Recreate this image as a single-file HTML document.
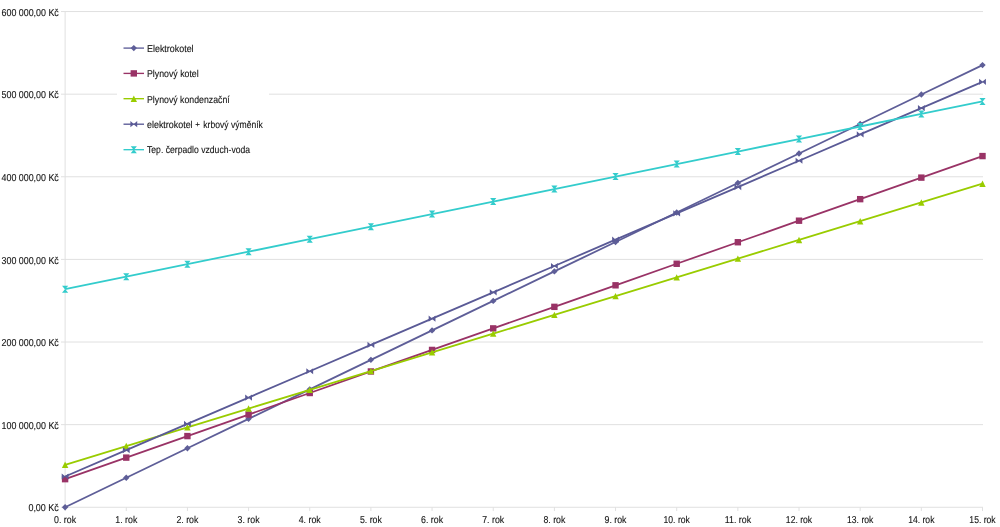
<!DOCTYPE html><html><head><meta charset="utf-8"><style>html,body{margin:0;padding:0;background:#fff;width:1000px;height:527px;overflow:hidden}svg{display:block;filter:blur(0.35px)}text{font-family:"Liberation Sans",sans-serif;font-size:10px;text-rendering:geometricPrecision;fill:#151515;stroke:#151515;stroke-width:0.12px}</style></head><body>
<svg width="1000" height="527" viewBox="0 0 1000 527">
<line x1="61" y1="507.25" x2="983.00" y2="507.25" stroke="#e0e0e0" stroke-width="1"/>
<text x="58.8" y="511.45" text-anchor="end" textLength="30.4" lengthAdjust="spacingAndGlyphs">0,00 Kč</text>
<line x1="61" y1="424.63" x2="983.00" y2="424.63" stroke="#e0e0e0" stroke-width="1"/>
<text x="58.8" y="428.83" text-anchor="end" textLength="57.3" lengthAdjust="spacingAndGlyphs">100 000,00 Kč</text>
<line x1="61" y1="342.01" x2="983.00" y2="342.01" stroke="#e0e0e0" stroke-width="1"/>
<text x="58.8" y="346.21" text-anchor="end" textLength="57.3" lengthAdjust="spacingAndGlyphs">200 000,00 Kč</text>
<line x1="61" y1="259.39" x2="983.00" y2="259.39" stroke="#e0e0e0" stroke-width="1"/>
<text x="58.8" y="263.59" text-anchor="end" textLength="57.3" lengthAdjust="spacingAndGlyphs">300 000,00 Kč</text>
<line x1="61" y1="176.78" x2="983.00" y2="176.78" stroke="#e0e0e0" stroke-width="1"/>
<text x="58.8" y="180.98" text-anchor="end" textLength="57.3" lengthAdjust="spacingAndGlyphs">400 000,00 Kč</text>
<line x1="61" y1="94.16" x2="983.00" y2="94.16" stroke="#e0e0e0" stroke-width="1"/>
<text x="58.8" y="98.36" text-anchor="end" textLength="57.3" lengthAdjust="spacingAndGlyphs">500 000,00 Kč</text>
<line x1="61" y1="11.54" x2="983.00" y2="11.54" stroke="#e0e0e0" stroke-width="1"/>
<text x="58.8" y="15.74" text-anchor="end" textLength="57.3" lengthAdjust="spacingAndGlyphs">600 000,00 Kč</text>
<line x1="65.1" y1="11.54" x2="65.1" y2="507.25" stroke="#e0e0e0"/>
<line x1="65.1" y1="507.25" x2="65.1" y2="511.05" stroke="#e0e0e0"/>
<text x="65.1" y="522.5" text-anchor="middle" textLength="22.0" lengthAdjust="spacingAndGlyphs">0. rok</text>
<line x1="126.26" y1="507.25" x2="126.26" y2="511.05" stroke="#e0e0e0"/>
<text x="126.3" y="522.5" text-anchor="middle" textLength="22.0" lengthAdjust="spacingAndGlyphs">1. rok</text>
<line x1="187.42" y1="507.25" x2="187.42" y2="511.05" stroke="#e0e0e0"/>
<text x="187.4" y="522.5" text-anchor="middle" textLength="22.0" lengthAdjust="spacingAndGlyphs">2. rok</text>
<line x1="248.58" y1="507.25" x2="248.58" y2="511.05" stroke="#e0e0e0"/>
<text x="248.6" y="522.5" text-anchor="middle" textLength="22.0" lengthAdjust="spacingAndGlyphs">3. rok</text>
<line x1="309.74" y1="507.25" x2="309.74" y2="511.05" stroke="#e0e0e0"/>
<text x="309.7" y="522.5" text-anchor="middle" textLength="22.0" lengthAdjust="spacingAndGlyphs">4. rok</text>
<line x1="370.9" y1="507.25" x2="370.9" y2="511.05" stroke="#e0e0e0"/>
<text x="370.9" y="522.5" text-anchor="middle" textLength="22.0" lengthAdjust="spacingAndGlyphs">5. rok</text>
<line x1="432.06" y1="507.25" x2="432.06" y2="511.05" stroke="#e0e0e0"/>
<text x="432.1" y="522.5" text-anchor="middle" textLength="22.0" lengthAdjust="spacingAndGlyphs">6. rok</text>
<line x1="493.22" y1="507.25" x2="493.22" y2="511.05" stroke="#e0e0e0"/>
<text x="493.2" y="522.5" text-anchor="middle" textLength="22.0" lengthAdjust="spacingAndGlyphs">7. rok</text>
<line x1="554.38" y1="507.25" x2="554.38" y2="511.05" stroke="#e0e0e0"/>
<text x="554.4" y="522.5" text-anchor="middle" textLength="22.0" lengthAdjust="spacingAndGlyphs">8. rok</text>
<line x1="615.54" y1="507.25" x2="615.54" y2="511.05" stroke="#e0e0e0"/>
<text x="615.5" y="522.5" text-anchor="middle" textLength="22.0" lengthAdjust="spacingAndGlyphs">9. rok</text>
<line x1="676.7" y1="507.25" x2="676.7" y2="511.05" stroke="#e0e0e0"/>
<text x="676.7" y="522.5" text-anchor="middle" textLength="26.3" lengthAdjust="spacingAndGlyphs">10. rok</text>
<line x1="737.86" y1="507.25" x2="737.86" y2="511.05" stroke="#e0e0e0"/>
<text x="737.9" y="522.5" text-anchor="middle" textLength="26.3" lengthAdjust="spacingAndGlyphs">11. rok</text>
<line x1="799.02" y1="507.25" x2="799.02" y2="511.05" stroke="#e0e0e0"/>
<text x="799.0" y="522.5" text-anchor="middle" textLength="26.3" lengthAdjust="spacingAndGlyphs">12. rok</text>
<line x1="860.18" y1="507.25" x2="860.18" y2="511.05" stroke="#e0e0e0"/>
<text x="860.2" y="522.5" text-anchor="middle" textLength="26.3" lengthAdjust="spacingAndGlyphs">13. rok</text>
<line x1="921.34" y1="507.25" x2="921.34" y2="511.05" stroke="#e0e0e0"/>
<text x="921.3" y="522.5" text-anchor="middle" textLength="26.3" lengthAdjust="spacingAndGlyphs">14. rok</text>
<line x1="982.5" y1="507.25" x2="982.5" y2="511.05" stroke="#e0e0e0"/>
<text x="982.5" y="522.5" text-anchor="middle" textLength="26.3" lengthAdjust="spacingAndGlyphs">15. rok</text>
<rect x="117" y="35" width="152" height="128" fill="#fff"/>
<polyline points="65.10,507.25 126.26,477.77 187.42,448.29 248.58,418.82 309.74,389.34 370.90,359.86 432.06,330.38 493.22,300.90 554.38,271.42 615.54,241.95 676.70,212.47 737.86,182.99 799.02,153.51 860.18,124.03 921.34,94.55 982.50,65.08" fill="none" stroke="#5e5e98" stroke-width="1.8" stroke-linejoin="round"/>
<path d="M61.90 507.25L65.10 504.05L68.30 507.25L65.10 510.45Z" fill="#5e5e98"/>
<path d="M123.06 477.77L126.26 474.57L129.46 477.77L126.26 480.97Z" fill="#5e5e98"/>
<path d="M184.22 448.29L187.42 445.09L190.62 448.29L187.42 451.49Z" fill="#5e5e98"/>
<path d="M245.38 418.82L248.58 415.62L251.78 418.82L248.58 422.02Z" fill="#5e5e98"/>
<path d="M306.54 389.34L309.74 386.14L312.94 389.34L309.74 392.54Z" fill="#5e5e98"/>
<path d="M367.70 359.86L370.90 356.66L374.10 359.86L370.90 363.06Z" fill="#5e5e98"/>
<path d="M428.86 330.38L432.06 327.18L435.26 330.38L432.06 333.58Z" fill="#5e5e98"/>
<path d="M490.02 300.90L493.22 297.70L496.42 300.90L493.22 304.10Z" fill="#5e5e98"/>
<path d="M551.18 271.42L554.38 268.22L557.58 271.42L554.38 274.62Z" fill="#5e5e98"/>
<path d="M612.34 241.95L615.54 238.75L618.74 241.95L615.54 245.15Z" fill="#5e5e98"/>
<path d="M673.50 212.47L676.70 209.27L679.90 212.47L676.70 215.67Z" fill="#5e5e98"/>
<path d="M734.66 182.99L737.86 179.79L741.06 182.99L737.86 186.19Z" fill="#5e5e98"/>
<path d="M795.82 153.51L799.02 150.31L802.22 153.51L799.02 156.71Z" fill="#5e5e98"/>
<path d="M856.98 124.03L860.18 120.83L863.38 124.03L860.18 127.23Z" fill="#5e5e98"/>
<path d="M918.14 94.55L921.34 91.35L924.54 94.55L921.34 97.75Z" fill="#5e5e98"/>
<path d="M979.30 65.08L982.50 61.88L985.70 65.08L982.50 68.28Z" fill="#5e5e98"/>
<polyline points="65.10,479.16 126.26,457.62 187.42,436.08 248.58,414.54 309.74,393.01 370.90,371.47 432.06,349.93 493.22,328.39 554.38,306.85 615.54,285.31 676.70,263.77 737.86,242.24 799.02,220.70 860.18,199.16 921.34,177.62 982.50,156.08" fill="none" stroke="#993366" stroke-width="1.8" stroke-linejoin="round"/>
<rect x="61.90" y="475.96" width="6.40" height="6.40" fill="#993366"/>
<rect x="123.06" y="454.42" width="6.40" height="6.40" fill="#993366"/>
<rect x="184.22" y="432.88" width="6.40" height="6.40" fill="#993366"/>
<rect x="245.38" y="411.34" width="6.40" height="6.40" fill="#993366"/>
<rect x="306.54" y="389.81" width="6.40" height="6.40" fill="#993366"/>
<rect x="367.70" y="368.27" width="6.40" height="6.40" fill="#993366"/>
<rect x="428.86" y="346.73" width="6.40" height="6.40" fill="#993366"/>
<rect x="490.02" y="325.19" width="6.40" height="6.40" fill="#993366"/>
<rect x="551.18" y="303.65" width="6.40" height="6.40" fill="#993366"/>
<rect x="612.34" y="282.11" width="6.40" height="6.40" fill="#993366"/>
<rect x="673.50" y="260.57" width="6.40" height="6.40" fill="#993366"/>
<rect x="734.66" y="239.04" width="6.40" height="6.40" fill="#993366"/>
<rect x="795.82" y="217.50" width="6.40" height="6.40" fill="#993366"/>
<rect x="856.98" y="195.96" width="6.40" height="6.40" fill="#993366"/>
<rect x="918.14" y="174.42" width="6.40" height="6.40" fill="#993366"/>
<rect x="979.30" y="152.88" width="6.40" height="6.40" fill="#993366"/>
<polyline points="65.10,464.78 126.26,446.05 187.42,427.31 248.58,408.57 309.74,389.83 370.90,371.09 432.06,352.36 493.22,333.62 554.38,314.88 615.54,296.14 676.70,277.41 737.86,258.67 799.02,239.93 860.18,221.19 921.34,202.45 982.50,183.72" fill="none" stroke="#99cc00" stroke-width="1.8" stroke-linejoin="round"/>
<path d="M61.90 467.98L65.10 461.58L68.30 467.98Z" fill="#99cc00"/>
<path d="M123.06 449.25L126.26 442.85L129.46 449.25Z" fill="#99cc00"/>
<path d="M184.22 430.51L187.42 424.11L190.62 430.51Z" fill="#99cc00"/>
<path d="M245.38 411.77L248.58 405.37L251.78 411.77Z" fill="#99cc00"/>
<path d="M306.54 393.03L309.74 386.63L312.94 393.03Z" fill="#99cc00"/>
<path d="M367.70 374.29L370.90 367.89L374.10 374.29Z" fill="#99cc00"/>
<path d="M428.86 355.56L432.06 349.16L435.26 355.56Z" fill="#99cc00"/>
<path d="M490.02 336.82L493.22 330.42L496.42 336.82Z" fill="#99cc00"/>
<path d="M551.18 318.08L554.38 311.68L557.58 318.08Z" fill="#99cc00"/>
<path d="M612.34 299.34L615.54 292.94L618.74 299.34Z" fill="#99cc00"/>
<path d="M673.50 280.61L676.70 274.21L679.90 280.61Z" fill="#99cc00"/>
<path d="M734.66 261.87L737.86 255.47L741.06 261.87Z" fill="#99cc00"/>
<path d="M795.82 243.13L799.02 236.73L802.22 243.13Z" fill="#99cc00"/>
<path d="M856.98 224.39L860.18 217.99L863.38 224.39Z" fill="#99cc00"/>
<path d="M918.14 205.65L921.34 199.25L924.54 205.65Z" fill="#99cc00"/>
<path d="M979.30 186.92L982.50 180.52L985.70 186.92Z" fill="#99cc00"/>
<polyline points="65.10,476.52 126.26,450.20 187.42,423.89 248.58,397.57 309.74,371.26 370.90,344.95 432.06,318.63 493.22,292.32 554.38,266.00 615.54,239.69 676.70,213.38 737.86,187.06 799.02,160.75 860.18,134.43 921.34,108.12 982.50,81.81" fill="none" stroke="#5a5a96" stroke-width="1.8" stroke-linejoin="round"/>
<path d="M61.70 473.42L65.40 476.52L61.70 479.62Z M68.50 473.42L64.80 476.52L68.50 479.62Z" fill="#5a5a96"/>
<path d="M122.86 447.10L126.56 450.20L122.86 453.30Z M129.66 447.10L125.96 450.20L129.66 453.30Z" fill="#5a5a96"/>
<path d="M184.02 420.79L187.72 423.89L184.02 426.99Z M190.82 420.79L187.12 423.89L190.82 426.99Z" fill="#5a5a96"/>
<path d="M245.18 394.47L248.88 397.57L245.18 400.67Z M251.98 394.47L248.28 397.57L251.98 400.67Z" fill="#5a5a96"/>
<path d="M306.34 368.16L310.04 371.26L306.34 374.36Z M313.14 368.16L309.44 371.26L313.14 374.36Z" fill="#5a5a96"/>
<path d="M367.50 341.85L371.20 344.95L367.50 348.05Z M374.30 341.85L370.60 344.95L374.30 348.05Z" fill="#5a5a96"/>
<path d="M428.66 315.53L432.36 318.63L428.66 321.73Z M435.46 315.53L431.76 318.63L435.46 321.73Z" fill="#5a5a96"/>
<path d="M489.82 289.22L493.52 292.32L489.82 295.42Z M496.62 289.22L492.92 292.32L496.62 295.42Z" fill="#5a5a96"/>
<path d="M550.98 262.90L554.68 266.00L550.98 269.10Z M557.78 262.90L554.08 266.00L557.78 269.10Z" fill="#5a5a96"/>
<path d="M612.14 236.59L615.84 239.69L612.14 242.79Z M618.94 236.59L615.24 239.69L618.94 242.79Z" fill="#5a5a96"/>
<path d="M673.30 210.28L677.00 213.38L673.30 216.48Z M680.10 210.28L676.40 213.38L680.10 216.48Z" fill="#5a5a96"/>
<path d="M734.46 183.96L738.16 187.06L734.46 190.16Z M741.26 183.96L737.56 187.06L741.26 190.16Z" fill="#5a5a96"/>
<path d="M795.62 157.65L799.32 160.75L795.62 163.85Z M802.42 157.65L798.72 160.75L802.42 163.85Z" fill="#5a5a96"/>
<path d="M856.78 131.33L860.48 134.43L856.78 137.53Z M863.58 131.33L859.88 134.43L863.58 137.53Z" fill="#5a5a96"/>
<path d="M917.94 105.02L921.64 108.12L917.94 111.22Z M924.74 105.02L921.04 108.12L924.74 111.22Z" fill="#5a5a96"/>
<path d="M979.10 78.71L982.80 81.81L979.10 84.91Z M985.90 78.71L982.20 81.81L985.90 84.91Z" fill="#5a5a96"/>
<polyline points="65.10,289.22 126.26,276.70 187.42,264.19 248.58,251.67 309.74,239.15 370.90,226.64 432.06,214.12 493.22,201.60 554.38,189.09 615.54,176.57 676.70,164.05 737.86,151.54 799.02,139.02 860.18,126.50 921.34,113.99 982.50,101.47" fill="none" stroke="#33cccc" stroke-width="1.8" stroke-linejoin="round"/>
<path d="M62.00 285.72L68.20 285.72L65.10 289.52Z M62.00 292.72L68.20 292.72L65.10 288.92Z" fill="#33cccc"/>
<path d="M123.16 273.20L129.36 273.20L126.26 277.00Z M123.16 280.20L129.36 280.20L126.26 276.40Z" fill="#33cccc"/>
<path d="M184.32 260.69L190.52 260.69L187.42 264.49Z M184.32 267.69L190.52 267.69L187.42 263.89Z" fill="#33cccc"/>
<path d="M245.48 248.17L251.68 248.17L248.58 251.97Z M245.48 255.17L251.68 255.17L248.58 251.37Z" fill="#33cccc"/>
<path d="M306.64 235.65L312.84 235.65L309.74 239.45Z M306.64 242.65L312.84 242.65L309.74 238.85Z" fill="#33cccc"/>
<path d="M367.80 223.14L374.00 223.14L370.90 226.94Z M367.80 230.14L374.00 230.14L370.90 226.34Z" fill="#33cccc"/>
<path d="M428.96 210.62L435.16 210.62L432.06 214.42Z M428.96 217.62L435.16 217.62L432.06 213.82Z" fill="#33cccc"/>
<path d="M490.12 198.10L496.32 198.10L493.22 201.90Z M490.12 205.10L496.32 205.10L493.22 201.30Z" fill="#33cccc"/>
<path d="M551.28 185.59L557.48 185.59L554.38 189.39Z M551.28 192.59L557.48 192.59L554.38 188.79Z" fill="#33cccc"/>
<path d="M612.44 173.07L618.64 173.07L615.54 176.87Z M612.44 180.07L618.64 180.07L615.54 176.27Z" fill="#33cccc"/>
<path d="M673.60 160.55L679.80 160.55L676.70 164.35Z M673.60 167.55L679.80 167.55L676.70 163.75Z" fill="#33cccc"/>
<path d="M734.76 148.04L740.96 148.04L737.86 151.84Z M734.76 155.04L740.96 155.04L737.86 151.24Z" fill="#33cccc"/>
<path d="M795.92 135.52L802.12 135.52L799.02 139.32Z M795.92 142.52L802.12 142.52L799.02 138.72Z" fill="#33cccc"/>
<path d="M857.08 123.00L863.28 123.00L860.18 126.80Z M857.08 130.00L863.28 130.00L860.18 126.20Z" fill="#33cccc"/>
<path d="M918.24 110.49L924.44 110.49L921.34 114.29Z M918.24 117.49L924.44 117.49L921.34 113.69Z" fill="#33cccc"/>
<path d="M979.40 97.97L985.60 97.97L982.50 101.77Z M979.40 104.97L985.60 104.97L982.50 101.17Z" fill="#33cccc"/>
<line x1="123.5" y1="48.1" x2="144" y2="48.1" stroke="#5e5e98" stroke-width="1.35"/>
<path d="M130.60 48.10L133.80 44.90L137.00 48.10L133.80 51.30Z" fill="#5e5e98"/>
<text x="147" y="52.1" textLength="46.6" lengthAdjust="spacingAndGlyphs">Elektrokotel</text>
<line x1="123.5" y1="73.4" x2="144" y2="73.4" stroke="#993366" stroke-width="1.35"/>
<rect x="130.60" y="70.20" width="6.40" height="6.40" fill="#993366"/>
<text x="147" y="76.7" textLength="51.7" lengthAdjust="spacingAndGlyphs">Plynový kotel</text>
<line x1="123.5" y1="98.7" x2="144" y2="98.7" stroke="#99cc00" stroke-width="1.35"/>
<path d="M130.60 101.90L133.80 95.50L137.00 101.90Z" fill="#99cc00"/>
<text x="147" y="102.6" textLength="82.7" lengthAdjust="spacingAndGlyphs">Plynový kondenzační</text>
<line x1="123.5" y1="124.2" x2="144" y2="124.2" stroke="#5a5a96" stroke-width="1.35"/>
<path d="M130.40 121.10L134.10 124.20L130.40 127.30Z M137.20 121.10L133.50 124.20L137.20 127.30Z" fill="#5a5a96"/>
<text x="147" y="128.1" textLength="45.6" lengthAdjust="spacingAndGlyphs">elektrokotel</text>
<text x="197.6" y="127.3" text-anchor="middle" style="font-size:8px">+</text>
<text x="203.3" y="128.1" textLength="59.6" lengthAdjust="spacingAndGlyphs">krbový výměník</text>
<line x1="123.5" y1="149.7" x2="144" y2="149.7" stroke="#33cccc" stroke-width="1.35"/>
<path d="M130.70 146.20L136.90 146.20L133.80 150.00Z M130.70 153.20L136.90 153.20L133.80 149.40Z" fill="#33cccc"/>
<text x="147" y="153.0" textLength="103.1" lengthAdjust="spacingAndGlyphs">Tep. čerpadlo vzduch-voda</text>
</svg></body></html>
